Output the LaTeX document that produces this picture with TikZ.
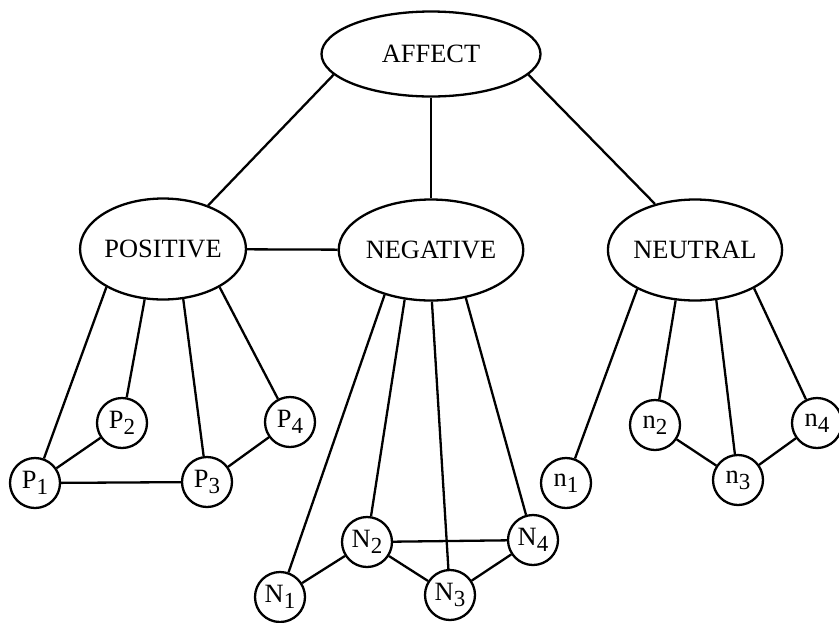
\documentclass[tikz,border=0pt]{standalone}
\usepackage{fontspec}
\setmainfont{Liberation Serif}
\usetikzlibrary{shapes.geometric}
\newcommand{\classfont}{\fontsize{13.2}{15}\selectfont}
\newcommand{\lowidx}[1]{\raisebox{-0.5ex}{\fontsize{11.5}{12}\selectfont #1}}
\tikzset{
class node/.style = { ellipse, draw = black, fill = white, minimum width = 76.5pt, minimum height = 50.5pt, inner sep = 0pt, font = \classfont },
top node/.style = { class node, minimum width = 109.5pt, minimum height = 42.5pt },
state node/.style = { circle, draw = black, fill = white, minimum size = 25pt, inner sep = 0pt, font = \classfont },
}

\begin{document}
\begin{tikzpicture}[x = 0.5pt, y = -0.5pt, line width = 1.15pt]
      \useasboundingbox (0, 0) rectangle (839, 622);
      % classes
      \node[top node] (affect) at (431, 54) {AFFECT};
      \node[class node] (positive) at (163, 249) {POSITIVE};
      \node[class node] (negative) at (431, 250) {NEGATIVE};
      \node[class node] (neutral) at (695, 250) {NEUTRAL};
      % states
      \node[state node] (p1) at (35, 483) {P\lowidx{1}};
      \node[state node] (p2) at (122, 423) {P\lowidx{2}};
      \node[state node] (p3) at (207, 482) {P\lowidx{3}};
      \node[state node] (p4) at (290, 422) {P\lowidx{4}};
      \node[state node] (N1) at (280, 597) {N\lowidx{1}};
      \node[state node] (N2) at (367, 542) {N\lowidx{2}};
      \node[state node] (N3) at (450, 595) {N\lowidx{3}};
      \node[state node] (N4) at (533, 540) {N\lowidx{4}};
      \node[state node] (n1) at (566, 483) {n\lowidx{1}};
      \node[state node] (n2) at (655, 425) {n\lowidx{2}};
      \node[state node] (n3) at (738, 480) {n\lowidx{3}};
      \node[state node] (n4) at (817, 423) {n\lowidx{4}};
      % tree
      \draw (affect.192) -- (positive.44);
      \draw (affect) -- (negative);
      \draw (affect.348) -- (neutral.131);
      \draw (positive) -- (negative);
      \draw (positive.214) -- (p1);
      \draw (positive.250) -- (p2);
      \draw (positive.292) -- (p3);
      \draw (positive.326) -- (p4);
      \draw (negative.224) -- (N1);
      \draw (negative.242) -- (N2);
      \draw (negative.271) -- (N3);
      \draw (negative.306) -- (N4);
      \draw (neutral.214) -- (n1);
      \draw (neutral.249) -- (n2);
      \draw (neutral.293) -- (n3);
      \draw (neutral.327) -- (n4);
      % links between states
      \draw (p1) -- (p2);
      \draw (p1) -- (p3);
      \draw (p3) -- (p4);
      \draw (N1) -- (N2);
      \draw (N2) -- (N3);
      \draw (N2) -- (N4);
      \draw (N3) -- (N4);
      \draw (n2) -- (n3);
      \draw (n3) -- (n4);
    \end{tikzpicture}
\end{document}
